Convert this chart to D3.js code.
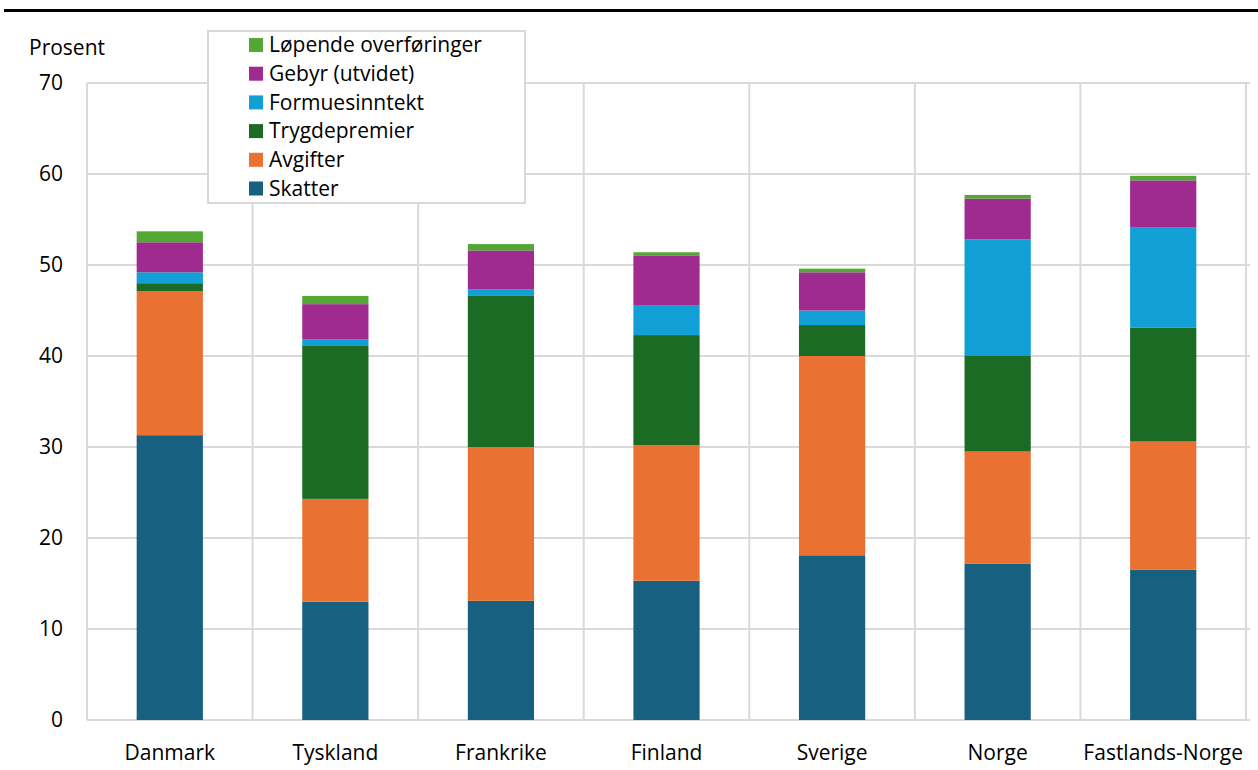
<!DOCTYPE html>
<html>
<head>
<meta charset="utf-8">
<script src="https://cdn.jsdelivr.net/npm/d3@7"></script>
<style>
  html, body { margin: 0; padding: 0; background: #fff; }
  svg { display: block; font-family: "Open Sans", "Noto Sans", sans-serif; }
</style>
</head>
<body>
<svg id="chart" width="1258" height="770"></svg>
<script>
// Categories along the x axis
const countries = ["Danmark", "Tyskland", "Frankrike", "Finland", "Sverige", "Norge", "Fastlands-Norge"];

// Series, bottom to top of each stack (per cent)
const skatter      = [31.3, 13.0, 13.1, 15.3, 18.1, 17.2, 16.5];
const avgifter     = [15.8, 11.3, 16.9, 14.9, 21.9, 12.3, 14.1];
const trygdepremier= [0.9, 16.8, 16.6, 12.1, 3.4, 10.5, 12.5];
const formuesinntekt=[1.2, 0.7, 0.7, 3.3, 1.6, 12.8, 11.0];
const gebyr        = [3.3, 3.9, 4.3, 5.4, 4.2, 4.5, 5.2];
const lopende      = [1.2, 0.9, 0.7, 0.4, 0.4, 0.4, 0.5];

const seriesNames = ["Skatter", "Avgifter", "Trygdepremier", "Formuesinntekt", "Gebyr (utvidet)", "Løpende overføringer"];
const seriesValues = [skatter, avgifter, trygdepremier, formuesinntekt, gebyr, lopende];
const seriesColors = ["#17607f", "#e97132", "#1b6b25", "#119fd6", "#a02b90", "#52a833"];

const yTicks = [0, 10, 20, 30, 40, 50, 60, 70];

const svg = d3.select("#chart");
const margin = { left: 87, right: 1246, top: 83, bottom: 720 };
const fontSize = 21;

// Heading rule
svg.append("line")
  .attr("x1", 4).attr("x2", 1258)
  .attr("y1", 10.5).attr("y2", 10.5)
  .attr("stroke", "#000").attr("stroke-width", 3);

const x = d3.scaleBand().domain(countries).range([margin.left, margin.right]).paddingInner(0).paddingOuter(0);
const y = d3.scaleLinear().domain([0, 70]).range([margin.bottom, margin.top]);

const grid = "#d9d9d9";

// Horizontal gridlines
svg.append("g").selectAll("line").data(yTicks).join("line")
  .attr("x1", margin.left).attr("x2", margin.right + 4)
  .attr("y1", d => y(d)).attr("y2", d => y(d))
  .attr("stroke", grid).attr("stroke-width", 2);

// Vertical separators between categories
const seps = countries.map(c => x(c)).concat([x(countries[countries.length - 1]) + x.bandwidth()]);
svg.append("g").selectAll("line").data(seps).join("line")
  .attr("x1", d => d).attr("x2", d => d)
  .attr("y1", margin.top).attr("y2", margin.bottom)
  .attr("stroke", grid).attr("stroke-width", 2);

// Y axis labels
const yAxis = d3.axisLeft(y).tickValues(yTicks).tickSize(0).tickPadding(24);
const gy = svg.append("g").attr("transform", `translate(${margin.left},0)`).call(yAxis);
gy.select(".domain").remove();
gy.selectAll("text").attr("font-size", fontSize).attr("fill", "#000")
  .attr("font-family", "Open Sans, Noto Sans, sans-serif");

svg.append("text").attr("x", 29).attr("y", 55)
  .attr("font-size", fontSize).attr("fill", "#000").text("Prosent");

// X axis labels
const xAxis = d3.axisBottom(x).tickSize(0).tickPadding(25);
const gx = svg.append("g").attr("transform", `translate(0,${margin.bottom})`).call(xAxis);
gx.select(".domain").remove();
gx.selectAll("text").attr("font-size", fontSize).attr("fill", "#000")
  .attr("font-family", "Open Sans, Noto Sans, sans-serif");

// Stacked bars
const rows = countries.map((c, i) => {
  const r = { country: c };
  seriesNames.forEach((s, k) => { r[s] = seriesValues[k][i]; });
  return r;
});
const stacked = d3.stack().keys(seriesNames)(rows);
const barW = x.bandwidth() * 0.4;

svg.append("g").selectAll("g").data(stacked).join("g")
  .attr("fill", (d, i) => seriesColors[i])
  .selectAll("rect").data(d => d).join("rect")
  .attr("x", d => x(d.data.country) + (x.bandwidth() - barW) / 2)
  .attr("width", barW)
  .attr("y", d => y(d[1]))
  .attr("height", d => y(d[0]) - y(d[1]));

// Legend (top series listed first)
const legend = svg.append("g");
legend.append("rect")
  .attr("x", 208).attr("y", 31).attr("width", 317).attr("height", 172)
  .attr("fill", "#fff").attr("stroke", grid).attr("stroke-width", 2);

const legendOrder = seriesNames.map((s, i) => i).reverse();
const items = legend.selectAll("g.item").data(legendOrder).join("g")
  .attr("class", "item")
  .attr("transform", (d, j) => `translate(249,${45 + j * 28.7})`);
items.append("rect").attr("x", 0).attr("y", -7).attr("width", 14).attr("height", 14)
  .attr("fill", d => seriesColors[d]);
items.append("text").attr("x", 20).attr("y", 0).attr("dy", "0.35em")
  .attr("font-size", fontSize).attr("fill", "#000")
  .text(d => seriesNames[d]);
</script>
</body>
</html>
